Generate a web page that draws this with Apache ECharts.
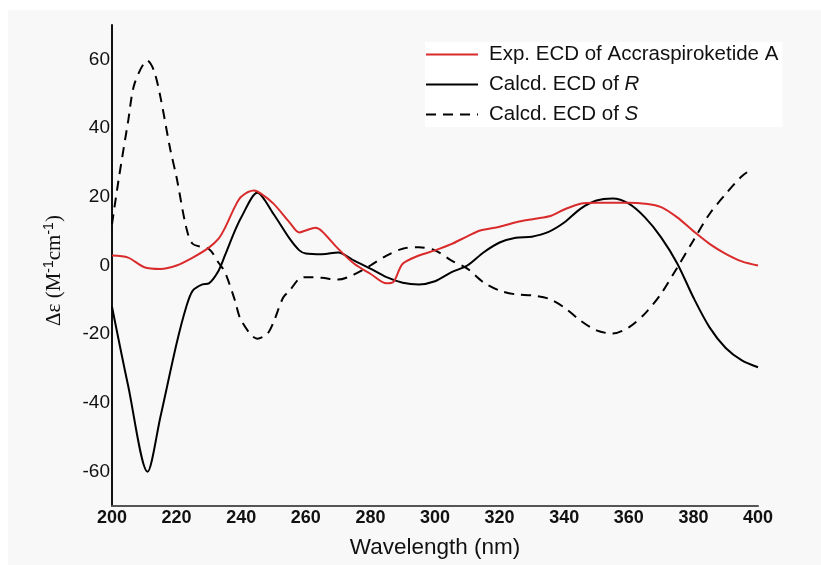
<!DOCTYPE html>
<html>
<head>
<meta charset="utf-8">
<title>ECD spectra</title>
<script src="https://cdn.jsdelivr.net/npm/echarts@6/dist/echarts.min.js"></script>
<style>
  html, body { margin: 0; padding: 0; background: #ffffff; }
  #chart { width: 821px; height: 565px; }
</style>
</head>
<body>
<div id="chart"></div>
<script>
// 实验 ECD 曲线
const expNm = [200, 205, 210, 215, 220, 225, 230, 233, 235, 238, 240, 244, 246, 250, 255, 258, 260, 263, 265, 270, 275, 280, 285, 287, 290, 295, 300, 305, 310, 314, 320, 326, 331, 336, 340, 345, 350, 360, 365, 370, 375, 380, 385, 390, 395, 400];
const expVal = [2.9, 2.3, -0.5, -1, 0, 2.3, 5.2, 7.8, 11, 17, 20, 21.8, 21, 18, 12.5, 9.6, 10.2, 11, 10, 4.9, 0.5, -2.4, -5.2, -4.9, 0.5, 2.9, 4.4, 6.2, 8.5, 10.2, 11.3, 12.8, 13.6, 14.5, 16.3, 18, 18.3, 18.3, 18, 17, 14, 10, 6.3, 3.4, 1.2, 0];

// 计算 ECD (R)
const rNm = [200, 205, 211, 215, 220, 223, 225, 228, 230, 233, 235, 238, 240, 245, 250, 255, 258, 260, 265, 270, 275, 280, 285, 290, 295, 300, 305, 310, 315, 320, 325, 330, 335, 340, 345, 350, 355, 360, 365, 370, 375, 380, 385, 390, 395, 400];
const rVal = [-12, -35, -60, -44, -22.7, -12, -7.3, -5.5, -5.2, -1.5, 3, 10, 14, 21.2, 15, 7.8, 4.4, 3.5, 3.3, 3.8, 1.4, -0.9, -3.4, -5, -5.5, -4.6, -2, 0, 3.8, 6.7, 8.1, 8.4, 9.7, 12.5, 16.5, 18.9, 19.5, 18, 14, 8.2, 0.6, -9.3, -18, -24, -27.6, -29.6];

// 计算 ECD (S)
const sNm = [200, 202, 205, 207, 211, 213, 215, 218, 220, 223, 225, 230, 233, 235, 238, 240, 245, 248, 250, 253, 255, 258, 260, 265, 270, 275, 280, 285, 290, 295, 300, 305, 310, 315, 320, 325, 330, 335, 340, 345, 350, 355, 360, 365, 370, 375, 380, 385, 390, 395, 398];
const sVal = [12, 24.7, 42, 53, 59.6, 56.7, 49, 34, 25.6, 11, 6.3, 4.8, 0.8, -2, -10, -16, -21.3, -20, -16.5, -9.3, -7.3, -3.8, -3.4, -3.6, -4.1, -2.6, 0, 2.9, 4.9, 5.3, 4.4, 1.5, -0.9, -4.9, -7.3, -8.4, -8.7, -9.6, -12.2, -16, -18.9, -19.8, -18, -14, -8.2, -0.6, 7.3, 15, 20.8, 26, 28];

// 刻度标签
const xTicks = [200, 220, 240, 260, 280, 300, 320, 340, 360, 380, 400];
const yTicks = [-60, -40, -20, 0, 20, 40, 60];

const seriesNames = ["Exp. ECD of Accraspiroketide A", "Calcd. ECD of R", "Calcd. ECD of S"];

const pairs = (xs, ys) => xs.map((x, i) => [x, ys[i]]);

const chart = echarts.init(document.getElementById("chart"));

const option = {
  backgroundColor: "#ffffff",
  animation: false,
  // 浅灰底色
  graphic: [
    {
      type: "rect",
      left: 8,
      top: 10,
      shape: { width: 813, height: 555 },
      style: { fill: "#f8f8f8" },
      z: -10,
    },
  ],
  grid: {
    left: 112,
    right: 63,
    top: 25,
    bottom: 59,
  },
  legend: {
    orient: "vertical",
    left: 425,
    top: 42,
    itemWidth: 52,
    itemHeight: 14,
    itemGap: 9,
    backgroundColor: "#ffffff",
    padding: [2, 4, 2, 0],
    data: seriesNames,
    // 图例只画线，不画圆点
    itemStyle: { opacity: 0 },
    textStyle: {
      fontFamily: "Liberation Sans",
      fontSize: 20.5,
      color: "#111",
      padding: [0, 0, 0, 6],
      rich: {
        i: { fontFamily: "Liberation Sans", fontSize: 20.5, fontStyle: "italic", color: "#111" },
      },
    },
    formatter: (name) => name.replace(/ (R|S)$/, " {i|$1}"),
  },
  xAxis: {
    type: "value",
    min: 200,
    max: 400,
    name: "Wavelength (nm)",
    nameLocation: "middle",
    nameGap: 30,
    nameTextStyle: { fontFamily: "Liberation Sans", fontSize: 22.5, color: "#111" },
    axisLine: { onZero: false, lineStyle: { color: "#555", width: 2 } },
    axisTick: { show: false },
    splitLine: { show: false },
    axisLabel: {
      customValues: xTicks,
      margin: 3,
      fontFamily: "Liberation Sans",
      fontWeight: "bold",
      fontSize: 18,
      color: "#111",
    },
  },
  yAxis: {
    type: "value",
    min: -70,
    max: 70,
    name: "Δε (M{s|-1}cm{s|-1})",
    nameLocation: "middle",
    nameGap: 46,
    nameTextStyle: {
      fontFamily: "Liberation Serif",
      fontSize: 21,
      color: "#111",
      padding: [0, 10, 0, 0],
      rich: {
        s: { fontFamily: "Liberation Sans", fontSize: 14, verticalAlign: "top", padding: [0, 0, 10, 0], color: "#111" },
      },
    },
    axisLine: { onZero: false, lineStyle: { color: "#111", width: 2 } },
    axisTick: { show: false },
    splitLine: { show: false },
    axisLabel: {
      customValues: yTicks,
      margin: 2,
      fontFamily: "Liberation Sans",
      fontSize: 19,
      color: "#111",
    },
  },
  series: [
    {
      name: seriesNames[0],
      type: "line",
      data: pairs(expNm, expVal),
      smooth: 0.3,
      showSymbol: false,
      symbol: "none",
      lineStyle: { color: "#d92b2b", width: 2 },
      itemStyle: { color: "#d92b2b" },
      z: 3,
    },
    {
      name: seriesNames[1],
      type: "line",
      data: pairs(rNm, rVal),
      smooth: 0.3,
      showSymbol: false,
      symbol: "none",
      lineStyle: { color: "#000", width: 2 },
      itemStyle: { color: "#000" },
      z: 2,
    },
    {
      name: seriesNames[2],
      type: "line",
      data: pairs(sNm, sVal),
      smooth: 0.3,
      showSymbol: false,
      symbol: "none",
      lineStyle: { color: "#000", width: 2, type: [10, 7] },
      itemStyle: { color: "#000" },
      z: 1,
    },
  ],
};

chart.setOption(option);
</script>
</body>
</html>
